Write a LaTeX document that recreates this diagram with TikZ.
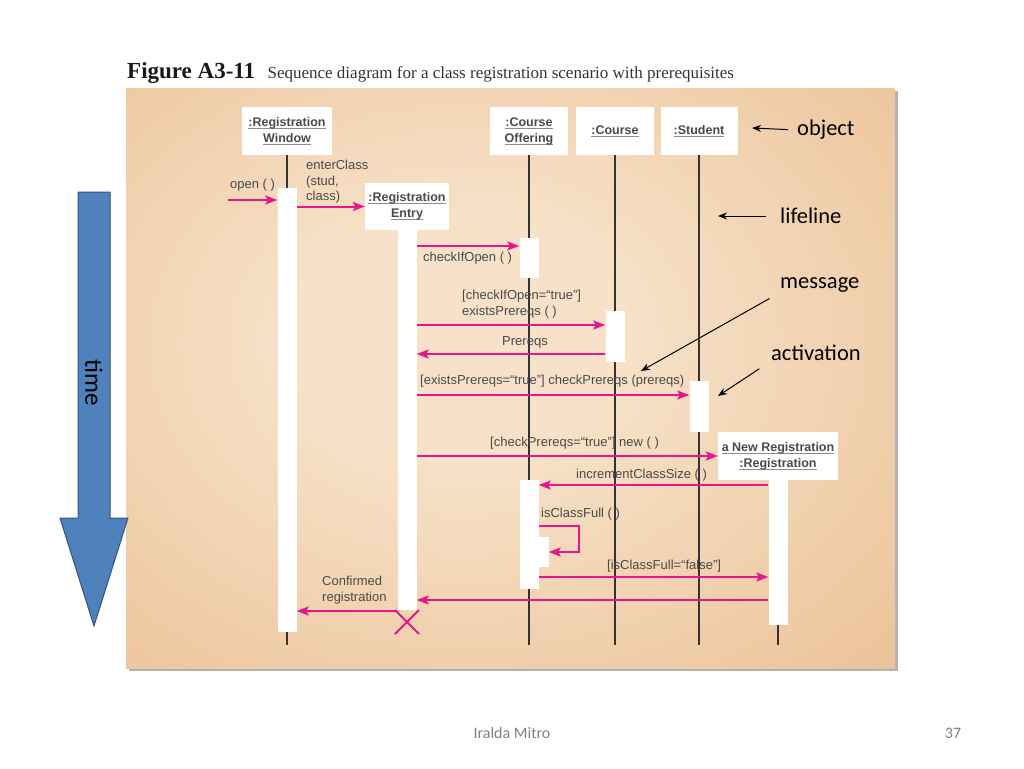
\documentclass[tikz,border=0pt]{standalone}
\usepackage{fontspec}
\setmainfont{Liberation Sans}
\newfontfamily\slidefont{Carlito}
\newfontfamily\figfont{Liberation Serif}
\usetikzlibrary{arrows.meta,shapes.misc}
\definecolor{msgpink}{HTML}{E5178A}
\definecolor{bgedge}{HTML}{E9BA8C}
\definecolor{bgmid}{HTML}{F7E2C9}
\definecolor{txtgray}{HTML}{4A4A4A}
\definecolor{timeblue}{HTML}{4F81BD}
\definecolor{timeedge}{HTML}{34557F}
\pgfdeclareradialshading{panel}{\pgfpoint{-4bp}{4bp}}{color(0bp)=(bgmid); color(10bp)=(bgmid); color(46bp)=(bgedge); color(80bp)=(bgedge)}
\newcommand\objline[1]{\setbox0\hbox{#1}\rlap{\color{black!45}\rule[-2.2pt]{\wd0}{0.7pt}}\box0}

\begin{document}
\begin{tikzpicture}[x=1pt, y=-1pt,
		obj/.style={fill=white, minimum width=78pt, minimum height=48pt, inner sep=2pt, align=center, text=txtgray, font=\fontsize{12.5}{16}\selectfont\bfseries},
		act/.style={fill=white, minimum width=19pt, inner sep=0pt},
		msg/.style={msgpink, line width=2pt, -{Stealth[length=12pt,width=9pt,inset=2.5pt]}},
		lbl/.style={text=txtgray, inner sep=0pt, align=left, font=\fontsize{13}{15.5}\selectfont},
		life/.style={black!80, line width=1.5pt},
		note/.style={inner sep=0pt, font=\slidefont\fontsize{22.5}{27}\selectfont},
		pointer/.style={line width=1pt, -{Stealth[length=9pt,width=7pt]}}]
	\useasboundingbox (0,0) rectangle (1024,768);
	% panel
	\fill[black!30] (129,91) rectangle (898,671);
	\shade[shading=panel] (126,88) rectangle (895,668);
	\node[anchor=base west, inner sep=0pt, text=black!90, font=\figfont\bfseries\fontsize{23}{25}\selectfont] (fig) at (127,78) {Figure A3-11};
	\node[anchor=base west, inner sep=0pt, text=black!80, font=\figfont\fontsize{17}{19}\selectfont] (cap) at ([xshift=12pt]fig.base east) {Sequence diagram for a class registration scenario with prerequisites};
	% objects
	\node[obj, minimum width=90pt] (rw) at (287,131) {\objline{:Registration}\\\objline{Window}};
	\node[obj, minimum width=84pt, minimum height=47pt] (re) at (407,206.5) {\objline{:Registration}\\\objline{Entry}};
	\node[obj] (cof) at (529,131) {\objline{:Course}\\\objline{Offering}};
	\node[obj] (crs) at (615,131) {\objline{:Course}};
	\node[obj, minimum width=77pt] (stu) at (699,131) {\objline{:Student}};
	\node[obj, minimum width=120pt] (nr) at (778,456) {\objline{a New Registration}\\\objline{:Registration}};
	% lifelines
	\coordinate (bot) at (0,645);
	\foreach \o in {rw, cof, crs, stu, nr}
		\draw[life] (\o.south) -- (\o.south |- bot);
	% activations
	\node[act, minimum height=444pt] (aw) at (287,410) {};
	\node[act, minimum height=380pt] (ae) at (407,420) {};
	\node[act, minimum height=40pt] (co1) at (529,258) {};
	\node[act, minimum height=51pt] (cs) at (615,336.5) {};
	\node[act, minimum height=51pt] (sa) at (699,406.5) {};
	\node[act, minimum height=145pt] (nra) at (778,552.5) {};
	\node[act, minimum height=109pt] (co2) at (529,534.5) {};
	\node[act, minimum width=10pt, minimum height=30pt] (co3) at (543.5,552) {};
	% messages
	\coordinate (src) at (228,200);
	\draw[msg] (src) -- (aw.west |- src);
	\draw[msg] (aw.east |- re.west) -- (re.west);
	\foreach \y/\a/\b in {246/ae.east/co1.west, 325/ae.east/cs.west, 354/cs.west/ae.east, 395/ae.east/sa.west, 485/nra.west/co2.east, 577/co2.east/nra.west, 600/nra.west/ae.east, 611/ae.west/aw.east}
		\draw[msg] (\a |- 0,\y) -- (\b |- 0,\y);
	\draw[msg] (ae.east |- nr.west) -- (nr.west);
	\draw[msg] (co2.east |- 0,526) -- ++(40,0) |- (co3.east);
	\node[cross out, draw=msgpink, line width=2pt, minimum size=22pt, inner sep=0pt] (dead) at (407,622) {};
	% labels
	\node[lbl, anchor=base west] (lopen) at (230,188) {open ( )};
	\node[lbl, anchor=north west] (lenter) at (306,160) {enterClass\\(stud,\\class)};
	\node[lbl, anchor=west] (lcheck) at (423,258) {checkIfOpen ( )};
	\node[lbl, anchor=north west] (lexists) at (462,290) {[checkIfOpen=“true”]\\existsPrereqs ( )};
	\node[lbl] (lpre) at (525,342) {Prereqs};
	\node[lbl, anchor=west] (lcpre) at (420,381) {[existsPrereqs=“true”] checkPrereqs (prereqs)};
	\node[lbl, anchor=west] (lnew) at (490,443) {[checkPrereqs=“true”] new ( )};
	\node[lbl, anchor=west] (linc) at (576,475) {incrementClassSize ( )};
	\node[lbl, anchor=west] (lfull) at (541,514) {isClassFull ( )};
	\node[lbl, anchor=west] (lfalse) at (607,566) {[isClassFull=“false”]};
	\node[lbl, anchor=north west] (lconf) at (322,576) {Confirmed\\registration};
	% time arrow
	\filldraw[fill=timeblue, draw=timeedge, line width=1pt] (78,192) -- (110,192) -- (110,518) -- (128,518) -- (94,626) -- (60,518) -- (78,518) -- cycle;
	\node[note, rotate=-90, font=\slidefont\fontsize{25}{30}\selectfont] (time) at (94,383) {time};
	% notes
	\node[note, anchor=west] (nobj) at (797,130) {object};
	\node[note, anchor=west] (nlife) at (780,216) {lifeline};
	\node[note, anchor=west] (nmsg) at (780,285) {message};
	\node[note, anchor=west] (nact) at (771,353) {activation};
	\coordinate (pobj) at (752,128);
	\coordinate (plife) at (718,216);
	\coordinate (pmsg) at (641,371);
	\coordinate (pact) at (718,396);
	\draw[pointer, shorten <=9pt] (nobj.west) -- (pobj);
	\draw[pointer, shorten <=14pt] (nlife.west) -- (plife);
	\draw[pointer, shorten <=12pt] (nmsg.south west) -- (pmsg);
	\draw[pointer, shorten <=14pt] (nact.south west) -- (pact);
	% footer
	\node[text=black!50, font=\slidefont\fontsize{16}{18}\selectfont] (auth) at (512,733) {Iralda Mitro};
	\node[text=black!50, font=\slidefont\fontsize{16}{18}\selectfont] (page) at (953,733) {37};
\end{tikzpicture}
\end{document}
